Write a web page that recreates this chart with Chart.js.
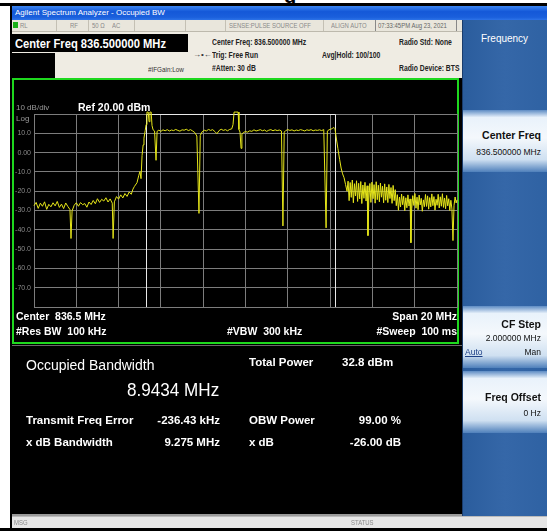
<!DOCTYPE html>
<html>
<head>
<meta charset="utf-8">
<script src="https://cdn.jsdelivr.net/npm/chart.js@4.4.1/dist/chart.umd.min.js"></script>
<style>
  html, body { margin: 0; padding: 0; width: 547px; height: 531px; overflow: hidden; background: #fff; font-family: "Liberation Sans", Arial, sans-serif; }
  .abs { position: absolute; white-space: nowrap; }
  .nl { transform-origin: left center; }
  .ttl { color: #fff; font-size: 8px; line-height: 10px; }
  .st { color: #8a8a8a; font-size: 7px; line-height: 9px; transform: scaleX(0.85); }
  .info { color: #222; font-size: 8.5px; font-weight: bold; line-height: 11px; transform: scaleX(0.8); }
  .gr { color: #fff; font-size: 10.5px; font-weight: bold; line-height: 12px; }
  .res { color: #fff; font-size: 11.5px; font-weight: bold; line-height: 14px; }
  .sk { color: #111; font-size: 10.5px; font-weight: bold; line-height: 12px; text-align: right; }
  .sk2 { color: #111; font-size: 8.5px; line-height: 10px; text-align: right; }
  .btn { position: absolute; left: 463px; width: 84px; background: linear-gradient(#5e8cc4 0%, #e9f2fb 12%, #f4f8fc 45%, #cfe0f1 80%, #4f80bb 100%); }
</style>
</head>
<body>
<!-- moldura -->
<div class="abs" style="left:284px;top:-15px;font-size:20px;font-weight:bold;color:#000;">g</div>
<div class="abs" style="left:0;top:3px;width:547px;height:3px;background:#000;"></div>
<div class="abs" style="left:10px;top:3px;width:2px;height:528px;background:#000;"></div>
<div class="abs" style="left:0;top:528px;width:547px;height:3px;background:#000;"></div>

<!-- barra de título -->
<div class="abs" style="left:12px;top:6px;width:535px;height:14px;background:linear-gradient(#3c86f2,#1458d8 40%,#1a5fdc 80%,#2d73e8);"></div>
<div class="abs ttl" style="left:15px;top:8px;">Agilent Spectrum Analyzer - Occupied BW</div>

<!-- linha de status -->
<div class="abs" style="left:12px;top:20px;width:450px;height:11px;background:#e9e6dc;border-bottom:1px solid #bdb9ad;"></div>
<div class="abs" style="left:13px;top:22px;width:5px;height:6px;background:#19b019;"></div>
<div class="abs st nl" style="left:20px;top:21px;">RL</div>
<div class="abs st nl" style="left:70px;top:21px;">RF</div>
<div class="abs st nl" style="left:92px;top:21px;">50 Ω</div>
<div class="abs st nl" style="left:112px;top:21px;">AC</div>
<div class="abs st nl" style="left:229px;top:21px;">SENSE:PULSE SOURCE OFF</div>
<div class="abs st nl" style="left:331px;top:21px;">ALIGN AUTO</div>
<div class="abs st nl" style="left:378px;top:21px;color:#666;">07:33:45PM Aug 23, 2021</div>
<div class="abs" style="left:56px;top:20px;width:1px;height:11px;background:#c4c0b4;"></div>
<div class="abs" style="left:88px;top:20px;width:1px;height:11px;background:#c4c0b4;"></div>
<div class="abs" style="left:134px;top:20px;width:1px;height:11px;background:#c4c0b4;"></div>
<div class="abs" style="left:185px;top:20px;width:1px;height:11px;background:#c4c0b4;"></div>
<div class="abs" style="left:225px;top:20px;width:1px;height:11px;background:#c4c0b4;"></div>
<div class="abs" style="left:323px;top:20px;width:1px;height:11px;background:#c4c0b4;"></div>
<div class="abs" style="left:375px;top:20px;width:1px;height:11px;background:#888;"></div>
<div class="abs" style="left:456px;top:20px;width:1px;height:11px;background:#888;"></div>

<!-- área de informações -->
<div class="abs" style="left:12px;top:32px;width:450px;height:46px;background:#efece3;"></div>
<div class="abs" style="left:12px;top:34px;width:176px;height:18px;background:#000;"></div>
<div class="abs nl" style="left:15px;top:36px;color:#fff;font-size:13px;font-weight:bold;line-height:15px;transform:scaleX(0.86);">Center Freq 836.500000 MHz</div>
<div class="abs" style="left:12px;top:53px;width:43px;height:25px;background:#000;"></div>
<div class="abs nl" style="left:148px;top:65px;color:#333;font-size:7px;line-height:9px;transform:scaleX(0.9);">#IFGain:Low</div>
<div class="abs" style="left:193px;top:50px;color:#333;font-size:8px;line-height:9px;">→•←</div>
<div class="abs info nl" style="left:212px;top:37px;">Center Freq: 836.500000 MHz</div>
<div class="abs info nl" style="left:212px;top:50px;">Trig: Free Run</div>
<div class="abs info nl" style="left:212px;top:63px;">#Atten: 30 dB</div>
<div class="abs info nl" style="left:322px;top:50px;">Avg|Hold: 100/100</div>
<div class="abs info nl" style="left:399px;top:37px;">Radio Std: None</div>
<div class="abs info nl" style="left:399px;top:63px;">Radio Device: BTS</div>

<!-- janela do gráfico -->
<div class="abs" style="left:12px;top:78px;width:450px;height:267px;background:#000;"></div>
<div class="abs" style="left:12px;top:78px;width:447px;height:266px;border:2px solid #1ed81e;box-sizing:border-box;"></div>
<canvas id="spectrumChart" class="abs" style="left:14px;top:80px;"></canvas>
<div class="abs" style="left:16px;top:103px;color:#9a9a9a;font-size:8px;line-height:9px;">10 dB/div</div>
<div class="abs" style="left:78px;top:101px;color:#fff;font-size:10.5px;font-weight:bold;line-height:12px;">Ref 20.00 dBm</div>
<div class="abs" style="left:16px;top:114px;color:#9a9a9a;font-size:8px;line-height:9px;">Log</div>
<div class="abs gr" style="left:16px;top:310px;">Center&nbsp; 836.5 MHz</div>
<div class="abs gr" style="left:16px;top:325px;">#Res BW&nbsp; 100 kHz</div>
<div class="abs gr" style="left:227px;top:325px;">#VBW&nbsp; 300 kHz</div>
<div class="abs gr" style="right:90px;top:310px;">Span 20 MHz</div>
<div class="abs gr" style="right:90px;top:325px;">#Sweep&nbsp; 100 ms</div>

<!-- painel de resultados -->
<div class="abs" style="left:12px;top:345px;width:450px;height:171px;background:#000;border-top:1px solid #6a6a6a;border-bottom:2px solid #9a9a9a;box-sizing:border-box;"></div>
<div class="abs" style="left:26px;top:357px;color:#fff;font-size:14px;line-height:16px;">Occupied Bandwidth</div>
<div class="abs nl" style="left:127px;top:379px;color:#fff;font-size:19px;line-height:21px;transform:scaleX(0.9);">8.9434 MHz</div>
<div class="abs res" style="left:249px;top:355px;">Total Power</div>
<div class="abs res" style="left:342px;top:355px;">32.8 dBm</div>
<div class="abs res" style="left:26px;top:413px;">Transmit Freq Error</div>
<div class="abs res" style="right:327px;top:413px;">-236.43 kHz</div>
<div class="abs res" style="left:249px;top:413px;">OBW Power</div>
<div class="abs res" style="right:146px;top:413px;">99.00 %</div>
<div class="abs res" style="left:26px;top:435px;">x dB Bandwidth</div>
<div class="abs res" style="right:327px;top:435px;">9.275 MHz</div>
<div class="abs res" style="left:249px;top:435px;">x dB</div>
<div class="abs res" style="right:146px;top:435px;">-26.00 dB</div>

<!-- barra de mensagens -->
<div class="abs" style="left:12px;top:516px;width:535px;height:12px;background:#e6e6e6;border-top:1px solid #bbb;box-sizing:border-box;"></div>
<div class="abs st nl" style="left:14px;top:518px;">MSG</div>
<div class="abs st nl" style="left:351px;top:518px;">STATUS</div>

<!-- teclas de função -->
<div class="abs" style="left:462px;top:20px;width:85px;height:496px;background:linear-gradient(90deg,#2b5d9d,#3567a8 50%,#2f62a3);border-left:1px solid #1a3c6c;box-sizing:border-box;"></div>
<div class="abs" style="left:462px;top:33px;width:85px;text-align:center;color:#fff;font-size:10px;line-height:12px;">Frequency</div>
<div class="btn" style="top:110px;height:62px;"></div>
<div class="abs sk" style="right:6px;top:129px;">Center Freq</div>
<div class="abs sk2" style="right:6px;top:147px;">836.500000 MHz</div>
<div class="btn" style="top:306px;height:62px;"></div>
<div class="abs sk" style="right:6px;top:318px;">CF Step</div>
<div class="abs sk2" style="right:6px;top:333px;">2.000000 MHz</div>
<div class="abs sk2" style="left:465px;top:347px;color:#1c3f86;text-decoration:underline;">Auto</div>
<div class="abs sk2" style="right:6px;top:347px;">Man</div>
<div class="btn" style="top:371px;height:62px;"></div>
<div class="abs sk" style="right:6px;top:391px;">Freq Offset</div>
<div class="abs sk2" style="right:6px;top:408px;">0 Hz</div>

<script>
// Eixo Y (dBm): referência 20 dBm, 10 dB/div
const yTickValues = [20, 10, 0, -10, -20, -30, -40, -50, -60, -70, -80];
const yTickLabels = ["", "10.0", "0.00", "-10.0", "-20.0", "-30.0", "-40.0", "-50.0", "-60.0", "-70.0", ""];

// Eixo X (MHz): centro 836.5, span 20
const xGridMHz = [826.5, 828.5, 830.5, 832.5, 834.5, 836.5, 838.5, 840.5, 842.5, 844.5, 846.5];

// Limites da largura de banda ocupada (MHz)
const obwEdgesMHz = [831.79, 840.74];

// Traço: canal adjacente inferior [MHz, dBm]
const lowerAdjacent = [
  [826.50, -27.5], [826.60, -25.8], [826.70, -28.9], [826.80, -26.2], [826.90, -27.8],
  [827.00, -25.5], [827.10, -29.4], [827.20, -26.8], [827.30, -28.1], [827.40, -26.0],
  [827.50, -27.6], [827.60, -25.3], [827.70, -28.4], [827.80, -26.7], [827.90, -29.0],
  [828.00, -26.1], [828.10, -27.9], [828.20, -29.5], [828.25, -44.5], [828.30, -30.2],
  [828.40, -27.3], [828.50, -26.0], [828.60, -27.8], [828.70, -25.9], [828.80, -27.0],
  [828.90, -26.4], [829.00, -28.3], [829.10, -25.6], [829.20, -26.9], [829.30, -24.8],
  [829.40, -26.5], [829.50, -23.9], [829.60, -25.8], [829.70, -24.2], [829.80, -25.1],
  [829.90, -23.4], [830.00, -25.6], [830.10, -24.0], [830.20, -26.2], [830.24, -44.5],
  [830.30, -25.5], [830.40, -22.8], [830.50, -24.1], [830.60, -21.9], [830.70, -23.5],
  [830.80, -21.2], [830.90, -22.7], [831.00, -20.4], [831.10, -21.6], [831.18, -18.9],
  [831.25, -17.5], [831.37, -15.6], [831.45, -12.0], [831.51, -9.8], [831.56, -13.5],
];

// Traço: canal principal
const mainChannel = [
  [831.61, -1.5], [831.66, 4.0], [831.70, 7.5], [831.76, 11.5], [831.80, 14.5],
  [831.84, 21.0], [831.90, 21.0], [831.94, 16.0], [831.98, 21.0], [832.04, 21.0],
  [832.08, 14.0], [832.13, 11.8], [832.20, 11.2], [832.27, -4.0], [832.32, 11.0],
  [832.40, 11.6], [832.50, 11.0], [832.60, 11.8], [832.70, 11.3], [832.80, 11.9],
  [832.90, 11.2], [833.00, 11.7], [833.10, 11.4], [833.20, 12.0], [833.30, 11.5],
  [833.40, 11.1], [833.50, 11.8], [833.60, 11.6], [833.70, 12.1], [833.80, 11.4],
  [833.90, 11.9], [834.00, 11.2], [834.10, 10.4], [834.20, 8.6], [834.30, -31.5],
  [834.36, 8.9], [834.45, 10.8], [834.55, 11.6], [834.65, 11.2], [834.75, 12.0],
  [834.85, 11.5], [834.95, 11.9], [835.05, 10.9], [835.15, 9.8], [835.25, 11.4],
  [835.35, 12.1], [835.45, 11.5], [835.55, 11.9], [835.65, 11.3], [835.75, 12.0],
  [835.85, 12.3], [835.91, 14.5], [835.96, 21.0], [836.05, 21.0], [836.15, 21.0],
  [836.19, 12.0], [836.24, 10.6], [836.29, 2.2], [836.33, 9.6], [836.40, 10.4],
  [836.50, 10.9], [836.60, 10.6], [836.70, 11.3], [836.80, 11.0], [836.90, 11.8],
  [837.00, 11.2], [837.10, 11.5], [837.20, 11.9], [837.30, 11.3], [837.40, 11.7],
  [837.50, 11.0], [837.60, 11.6], [837.70, 11.9], [837.80, 11.3], [837.90, 11.8],
  [838.00, 11.4], [838.10, 11.7], [838.20, 11.2], [838.27, -38.0], [838.33, 10.6],
  [838.40, 11.4], [838.50, 11.9], [838.60, 11.5], [838.70, 11.8], [838.80, 11.2],
  [838.90, 11.7], [839.00, 11.4], [839.10, 11.9], [839.20, 11.6], [839.30, 11.2],
  [839.40, 11.8], [839.50, 11.5], [839.60, 11.9], [839.70, 11.3], [839.80, 11.7],
  [839.90, 11.5], [840.00, 11.8], [840.10, 11.4], [840.20, 11.9], [840.31, -39.0],
  [840.37, 11.2], [840.45, 11.8], [840.55, 12.2], [840.62, 12.6], [840.68, 13.0],
  [840.73, 12.4], [840.80, 7.0], [840.87, 2.0], [840.95, -3.5], [841.02, -8.0],
  [841.09, -11.0], [841.16, -13.0], [841.23, -16.5], [841.30, -20.0],
];

// Traço: canal adjacente superior
const upperAdjacent = [
  [841.35, -14.8], [841.40, -24.9], [841.45, -15.5], [841.50, -23.2], [841.55, -14.2],
  [841.60, -26.0], [841.65, -16.1], [841.70, -22.5], [841.75, -14.6], [841.80, -25.3],
  [841.85, -15.9], [841.90, -24.0], [841.95, -15.0], [842.00, -26.4], [842.05, -16.8],
  [842.10, -23.7], [842.15, -15.4], [842.20, -25.1], [842.25, -17.2], [842.29, -43.0],
  [842.33, -24.6], [842.38, -16.0], [842.43, -25.8], [842.48, -15.3], [842.53, -23.9],
  [842.58, -16.6], [842.63, -26.2], [842.68, -15.1], [842.73, -24.4], [842.78, -16.9],
  [842.83, -25.5], [842.88, -15.8], [842.93, -23.1], [842.98, -17.4], [843.03, -26.0],
  [843.08, -16.2], [843.13, -24.7], [843.18, -17.8], [843.23, -25.9], [843.28, -16.5],
  [843.33, -23.8], [843.38, -18.1], [843.43, -26.3], [843.48, -17.0], [843.53, -24.9],
  [843.58, -19.2], [843.63, -27.5], [843.68, -21.8], [843.73, -29.9], [843.78, -23.0],
  [843.83, -28.2], [843.88, -21.5], [843.93, -27.0], [843.98, -22.6], [844.03, -30.1],
  [844.08, -23.4], [844.13, -28.6], [844.18, -21.9], [844.23, -27.7], [844.28, -24.0],
  [844.32, -46.7], [844.36, -28.9], [844.41, -22.3], [844.46, -27.4], [844.51, -21.2],
  [844.56, -28.8], [844.61, -23.1], [844.66, -29.6], [844.71, -22.0], [844.76, -27.1],
  [844.81, -23.7], [844.86, -30.4], [844.91, -24.5], [844.96, -28.0], [845.01, -21.7],
  [845.06, -27.9], [845.11, -22.4], [845.16, -29.3], [845.21, -23.3], [845.26, -28.1],
  [845.31, -21.4], [845.36, -27.5], [845.41, -22.8], [845.46, -29.8], [845.51, -24.2],
  [845.56, -27.3], [845.61, -21.6], [845.66, -28.7], [845.71, -22.9], [845.76, -27.8],
  [845.81, -21.3], [845.86, -28.4], [845.91, -23.5], [845.96, -29.1], [846.01, -22.2],
  [846.06, -27.6], [846.11, -23.9], [846.16, -30.0], [846.21, -24.7], [846.26, -29.2],
  [846.31, -45.6], [846.36, -27.3], [846.41, -23.0], [846.46, -26.1], [846.50, -24.5],
];

// Marcadores OBW: linhas brancas verticais e topo entre elas
const obwMarkers = {
  id: "obwMarkers",
  beforeDatasetsDraw(chart) {
    const { ctx, chartArea, scales } = chart;
    const x1 = Math.round(scales.x.getPixelForValue(obwEdgesMHz[0])) + 0.5;
    const x2 = Math.round(scales.x.getPixelForValue(obwEdgesMHz[1])) + 0.5;
    const top = Math.round(chartArea.top) + 0.5;
    ctx.save();
    ctx.strokeStyle = "#e8e8e8";
    ctx.lineWidth = 1;
    ctx.beginPath();
    ctx.moveTo(x1, chartArea.bottom);
    ctx.lineTo(x1, top);
    ctx.lineTo(x2, top);
    ctx.lineTo(x2, chartArea.bottom);
    ctx.stroke();
    ctx.restore();
  },
};

function drawSpectrum() {
  const canvas = document.getElementById("spectrumChart");
  canvas.width = 444;
  canvas.height = 262;
  canvas.style.width = "444px";
  canvas.style.height = "262px";

  const points = lowerAdjacent
    .concat(mainChannel, upperAdjacent)
    .map(([f, level]) => ({ x: f, y: level }));

  new Chart(canvas.getContext("2d"), {
    type: "line",
    data: {
      datasets: [
        {
          data: points,
          borderColor: "#e6e619",
          borderWidth: 1,
          pointRadius: 0,
          tension: 0,
          clip: false,
        },
      ],
    },
    options: {
      responsive: false,
      animation: false,
      events: [],
      layout: { padding: { top: 34, right: 1, bottom: 35, left: 0 } },
      plugins: { legend: { display: false }, tooltip: { enabled: false } },
      scales: {
        x: {
          type: "linear",
          min: xGridMHz[0],
          max: xGridMHz[xGridMHz.length - 1],
          afterBuildTicks: (scale) => {
            scale.ticks = xGridMHz.map((v) => ({ value: v }));
          },
          afterFit: (scale) => {
            scale.height = 0;
          },
          ticks: { display: false },
          grid: { color: "#7c7c7c", drawTicks: false },
          border: { color: "#7c7c7c" },
        },
        y: {
          type: "linear",
          min: yTickValues[yTickValues.length - 1],
          max: yTickValues[0],
          afterFit: (scale) => {
            scale.width = 20;
          },
          ticks: {
            stepSize: 10,
            padding: 3,
            color: "#8a8a8a",
            font: { size: 7, family: "Liberation Sans" },
            callback: (value) => yTickLabels[yTickValues.indexOf(value)],
          },
          grid: { color: "#7c7c7c", drawTicks: false },
          border: { color: "#7c7c7c" },
        },
      },
    },
    plugins: [obwMarkers],
  });
}

document.addEventListener("DOMContentLoaded", () => {
  drawSpectrum();
});
</script>
</body>
</html>
